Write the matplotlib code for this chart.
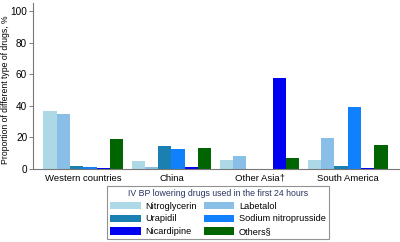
import matplotlib.pyplot as plt
import numpy as np

regions = ["Western countries", "China", "Other Asia\u2020", "South America"]
drugs = ["Nitroglycerin", "Labetalol", "Urapidil",
         "Sodium nitroprusside", "Nicardipine", "Others\u00a7"]

# proportion (%) per drug, one list per drug across regions
nitroglycerin = [36.4, 4.8, 5.9, 5.9]
labetalol = [34.9, 1.0, 8.0, 19.8]
urapidil = [2.0, 14.5, 0.0, 1.7]
nitroprusside = [1.0, 12.6, 0.0, 39.0]
nicardipine = [0.4, 1.0, 57.3, 0.4]
others = [19.2, 13.5, 7.2, 15.1]

colors = ["#add8e6", "#89bfe6", "#1a80b2", "#1080fc", "#0000f0", "#006400"]

plt.rcParams['font.family'] = ['Liberation Sans', 'DejaVu Sans']

fig = plt.figure(figsize=(4, 2.42), dpi=100)
ax = fig.add_axes([0.082, 0.302, 0.915, 0.685])

series = [nitroglycerin, labetalol, urapidil, nitroprusside, nicardipine, others]
stride = 6.63
group_x = np.arange(len(regions)) * stride
handles = []
for i, (vals, c) in enumerate(zip(series, colors)):
    b = ax.bar(group_x + i, vals, width=1.0, color=c, align='edge', label=drugs[i])
    handles.append(b)

ax.set_xlim(-0.8, group_x[-1] + 6.85)
ax.set_ylim(0, 105)
ax.set_yticks([0, 20, 40, 60, 80, 100])
ax.set_xticks(group_x + 3)
ax.set_xticklabels(regions)
ax.tick_params(axis='x', length=0, pad=3.5, labelsize=6.8)
ax.tick_params(axis='y', length=3, width=0.6, color='#666666', pad=1, labelsize=7.2)
for s in ['top', 'right']:
    ax.spines[s].set_visible(False)
for s in ['left', 'bottom']:
    ax.spines[s].set_color('#777777')
    ax.spines[s].set_linewidth(0.8)
ax.set_ylabel("Proportion of different type of drugs, %", fontsize=6.2, labelpad=2)
ax.yaxis.set_label_coords(-0.062, 0.48)

# legend fills row by row: reorder for matplotlib's column-wise layout
order = [0, 2, 4, 1, 3, 5]
leg = fig.legend([handles[k] for k in order], [drugs[k] for k in order],
                 loc='upper left', bbox_to_anchor=(0.268, 0.232), ncol=2,
                 title="IV BP lowering drugs used in the first 24 hours",
                 fontsize=6.6, title_fontsize=6.3, frameon=True, fancybox=False,
                 handlelength=3.3, handleheight=0.85, handletextpad=0.55,
                 columnspacing=0.7, labelspacing=0.4, borderpad=0.35,
                 borderaxespad=0)
leg.get_title().set_color('#2a3560')
leg.get_frame().set_edgecolor('#777777')
leg.get_frame().set_linewidth(0.8)

fig.savefig("out.png", dpi=100)
